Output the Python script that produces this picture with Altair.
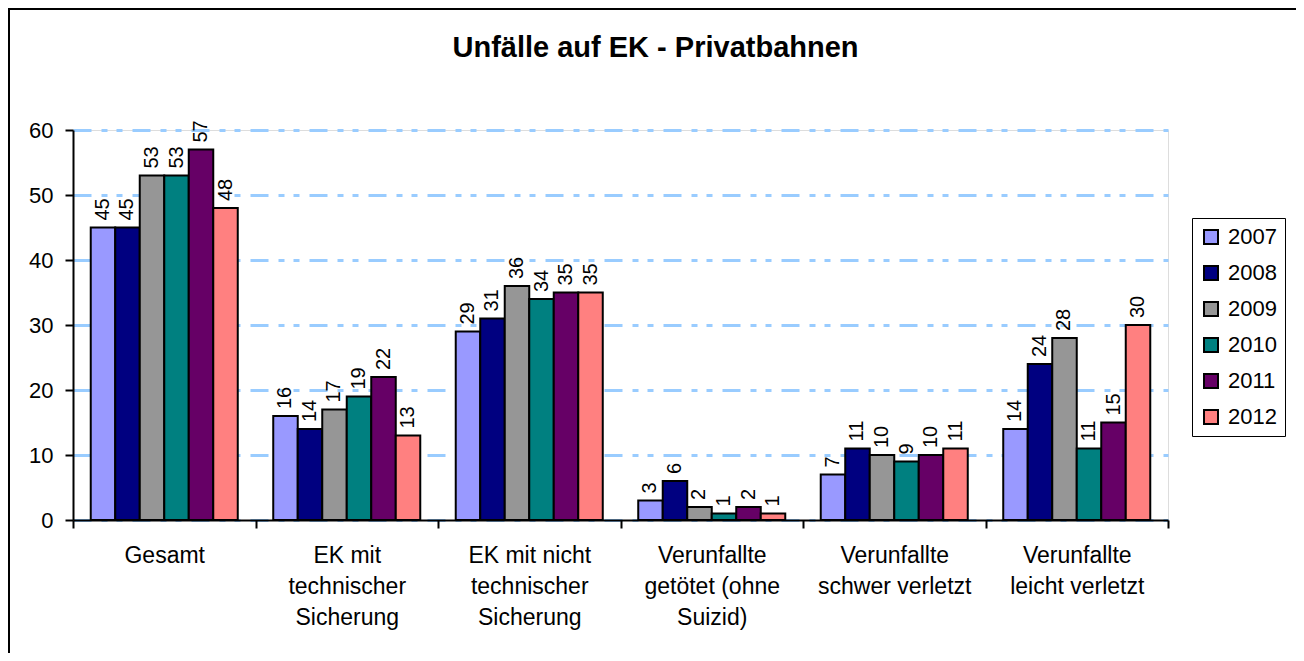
import altair as alt
import pandas as pd

categories = [
    "Gesamt",
    "EK mit\ntechnischer\nSicherung",
    "EK mit nicht\ntechnischer\nSicherung",
    "Verunfallte\ngetötet (ohne\nSuizid)",
    "Verunfallte\nschwer verletzt",
    "Verunfallte\nleicht verletzt",
]
years = ["2007", "2008", "2009", "2010", "2011", "2012"]
v2007 = [45, 16, 29, 3, 7, 14]
v2008 = [45, 14, 31, 6, 11, 24]
v2009 = [53, 17, 36, 2, 10, 28]
v2010 = [53, 19, 34, 1, 9, 11]
v2011 = [57, 22, 35, 2, 10, 15]
v2012 = [48, 13, 35, 1, 11, 30]
colors = ["#9999FF", "#000080", "#969696", "#008080", "#660066", "#FF8080"]

series = [v2007, v2008, v2009, v2010, v2011, v2012]
rows = []
for y, vals in zip(years, series):
    for c, v in zip(categories, vals):
        rows.append({"Kategorie": c, "Jahr": y, "Wert": v})
df = pd.DataFrame(rows)

FONT = "Liberation Sans"

x_enc = alt.X("Kategorie:N", sort=categories,
              scale=alt.Scale(paddingInner=0, paddingOuter=0),
              axis=alt.Axis(title=None, labelAngle=0, tickBand="extent",
                            labelExpr="split(datum.label, '\\n')",
                            labelFontSize=23, labelLineHeight=31,
                            labelPadding=16, labelLimit=0,
                            tickSize=8, tickColor="black", tickWidth=2,
                            domainColor="black", domainWidth=2,
                            labelColor="black", labelFont=FONT, zindex=1))
xo_enc = alt.XOffset("Jahr:N", sort=years,
                     scale=alt.Scale(paddingInner=0, paddingOuter=0.724))
y_enc = alt.Y("Wert:Q", scale=alt.Scale(domain=[0, 60], nice=False),
              axis=alt.Axis(title=None, values=[0, 10, 20, 30, 40, 50, 60],
                            labelFontSize=22, labelFont=FONT, labelColor="black",
                            labelPadding=12, tickSize=8, tickColor="black",
                            tickWidth=2, domainColor="black", domainWidth=2,
                            grid=True, gridColor="#99CCFF", gridWidth=3,
                            gridDash=[18, 10, 6, 9, 6, 10]))

bars = alt.Chart(df).mark_bar(stroke="black", strokeWidth=2).encode(
    x=x_enc, xOffset=xo_enc, y=y_enc,
    color=alt.Color("Jahr:N", sort=years,
                    scale=alt.Scale(domain=years, range=colors),
                    legend=alt.Legend(orient="none", legendX=1119, legendY=88,
                                      title=None, symbolType="square",
                                      symbolSize=196, symbolStrokeColor="black",
                                      symbolStrokeWidth=2, symbolOpacity=1,
                                      labelFontSize=22, labelFont=FONT,
                                      labelColor="black", rowPadding=14,
                                      padding=8, labelOffset=6,
                                      strokeColor="black")),
)

labels = alt.Chart(df).mark_text(angle=270, align="left", baseline="middle",
                                 dx=7, fontSize=20, font=FONT, color="black").encode(
    x=alt.X("Kategorie:N", sort=categories), xOffset=alt.XOffset("Jahr:N", sort=years),
    y="Wert:Q", text="Wert:Q")

one = pd.DataFrame({"a": [0]})
top_line = alt.Chart(one).mark_rule(color="black", strokeWidth=2, clip=False).encode(
    x=alt.value(-64), x2=alt.value(1300), y=alt.value(-121))
left_line = alt.Chart(one).mark_rule(color="black", strokeWidth=2, clip=False).encode(
    x=alt.value(-64), y=alt.value(-122), y2=alt.value(600))

chart = alt.layer(bars, labels, top_line, left_line).properties(
    width=1095, height=390,
    autosize=alt.AutoSizeParams(type="none"),
    padding={"left": 65, "top": 122, "right": 128, "bottom": 133},
    title=alt.TitleParams("Unfälle auf EK - Privatbahnen", font=FONT,
                          fontSize=29, fontWeight="bold", color="black",
                          anchor="middle", dx=35, baseline="alphabetic",
                          offset=-79),
).configure_view(
    fill="#CCFFFF", stroke="#99CCFF", strokeWidth=3,
    strokeDash=[18, 10, 6, 9, 6, 10]
).configure_legend(strokeWidth=2).configure(background="white")

chart.save("out.html", embed_options={"renderer": "svg", "actions": False})
